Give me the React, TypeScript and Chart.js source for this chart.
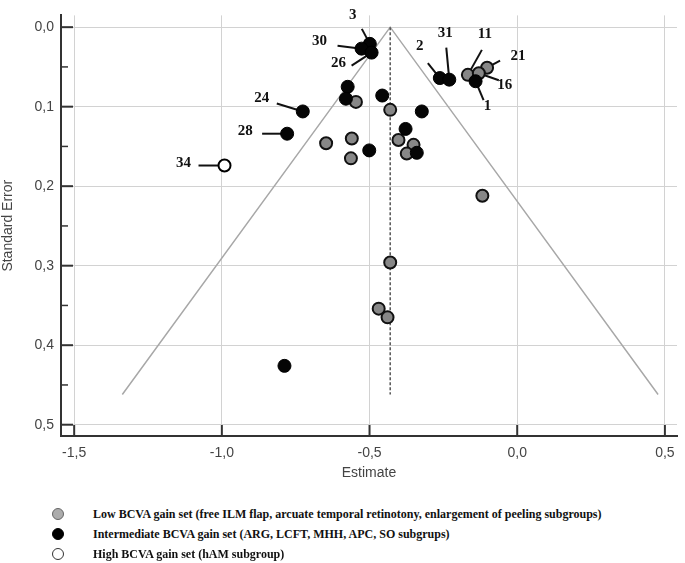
import React, { useEffect, useRef } from 'react';
import { Chart, registerables } from 'chart.js';

Chart.register(...registerables);

// ---- Axis ticks ----
const xTicks = [-1.5, -1.0, -0.5, 0.0, 0.5];
const yTicks = [0.0, 0.1, 0.2, 0.3, 0.4, 0.5];
const yMinorTicks = [0.05, 0.15, 0.25, 0.35, 0.45];

// ---- Low BCVA gain set (grey) ----
const lowEstimate = [-0.167, -0.102, -0.13, -0.546, -0.43, -0.402, -0.351, -0.374, -0.647, -0.56, -0.563, -0.118, -0.43, -0.469, -0.439];
const lowSE = [0.060, 0.051, 0.058, 0.094, 0.104, 0.142, 0.148, 0.159, 0.146, 0.140, 0.165, 0.212, 0.296, 0.354, 0.365];
const lowIds = ['11', '21', '16', '', '', '', '', '', '', '', '', '', '', '', ''];

// ---- Intermediate BCVA gain set (black) ----
const midEstimate = [-0.499, -0.527, -0.493, -0.262, -0.23, -0.141, -0.726, -0.779, -0.574, -0.58, -0.457, -0.323, -0.378, -0.34, -0.501, -0.788];
const midSE = [0.021, 0.027, 0.032, 0.064, 0.066, 0.068, 0.106, 0.134, 0.075, 0.090, 0.086, 0.106, 0.128, 0.158, 0.155, 0.426];
const midIds = ['3', '30', '26', '2', '31', '1', '24', '28', '', '', '', '', '', '', '', ''];

// ---- High BCVA gain set (white) ----
const highEstimate = [-0.991];
const highSE = [0.174];
const highIds = ['34'];

// ---- Funnel (pseudo 95% CI) and summary line ----
const funnelEstimate = [-1.337, -0.43, 0.477];
const funnelSE = [0.462, 0.0, 0.462];
const summaryEstimate = [-0.43, -0.43];
const summarySE = [0.0, 0.462];

const legendLabels = [
  'Low BCVA gain set (free ILM flap, arcuate temporal retinotony, enlargement of peeling subgroups)',
  'Intermediate BCVA gain set (ARG, LCFT, MHH, APC, SO subgrups)',
  'High BCVA gain set (hAM subgroup)',
];

// label placement: [lineEndDx, lineEndDy, textDx, textDy] relative to the point (px)
const labelOffsets: Record<string, [number, number, number, number]> = {
  '3': [-8, -15, -17, -29],
  '30': [-24, -3, -42, -8],
  '26': [-20, 13, -33, 11],
  '2': [-12, -15, -20, -32],
  '31': [-3, -32, -4, -47],
  '11': [14, -25, 17, -41],
  '21': [13, -7, 31, -12],
  '16': [20, 7, 26, 12],
  '1': [8, 19, 12, 25],
  '24': [-26, -8, -41, -13],
  '28': [-25, 0, -42, -3],
  '34': [-26, 0, -41, -2],
};

const fmt = (v: number) => Number(v).toFixed(1).replace('.', ',');
const pts = (xs: number[], ys: number[]) => xs.map((x, i) => ({ x, y: ys[i] }));

const idsByDataset: Record<number, string[]> = { 2: lowIds, 3: midIds, 4: highIds };

const annotatePlugin = {
  id: 'annotate',
  beforeDatasetsDraw(chart: any) {
    const ctx = chart.ctx;
    ctx.save();
    ctx.strokeStyle = '#111';
    ctx.lineWidth = 2;
    Object.keys(idsByDataset).forEach((k) => {
      const di = Number(k);
      const meta = chart.getDatasetMeta(di);
      idsByDataset[di].forEach((id, j) => {
        if (!id || !labelOffsets[id]) return;
        const p = meta.data[j];
        const o = labelOffsets[id];
        ctx.beginPath();
        ctx.moveTo(p.x, p.y);
        ctx.lineTo(p.x + o[0], p.y + o[1]);
        ctx.stroke();
      });
    });
    ctx.restore();
  },
  afterDatasetsDraw(chart: any) {
    const ctx = chart.ctx;
    ctx.save();
    ctx.fillStyle = '#111';
    ctx.font = 'bold 15px "Liberation Serif", "Times New Roman", serif';
    ctx.textAlign = 'center';
    ctx.textBaseline = 'middle';
    Object.keys(idsByDataset).forEach((k) => {
      const di = Number(k);
      const meta = chart.getDatasetMeta(di);
      idsByDataset[di].forEach((id, j) => {
        if (!id || !labelOffsets[id]) return;
        const p = meta.data[j];
        const o = labelOffsets[id];
        ctx.fillText(id, p.x + o[2], p.y + o[3]);
      });
    });
    // inward tick marks
    const xs = chart.scales.x;
    const ys = chart.scales.y;
    const area = chart.chartArea;
    ctx.strokeStyle = '#333';
    ctx.lineWidth = 2;
    xTicks.forEach((v) => {
      const px = xs.getPixelForValue(v);
      ctx.beginPath();
      ctx.moveTo(px, area.bottom);
      ctx.lineTo(px, area.bottom - 11);
      ctx.stroke();
    });
    yTicks.forEach((v) => {
      const py = ys.getPixelForValue(v);
      ctx.beginPath();
      ctx.moveTo(area.left, py);
      ctx.lineTo(area.left + 12, py);
      ctx.stroke();
    });
    ctx.lineWidth = 1.5;
    yMinorTicks.forEach((v) => {
      const py = ys.getPixelForValue(v);
      ctx.beginPath();
      ctx.moveTo(area.left, py);
      ctx.lineTo(area.left + 7, py);
      ctx.stroke();
    });
    ctx.restore();
  },
};

const tickFont = { family: '"Liberation Sans", Arial, sans-serif', size: 14 };

export default function App() {
  const ref = useRef<HTMLCanvasElement>(null);

  useEffect(() => {
    if (!ref.current) return;
    const chart = new Chart(ref.current, {
      type: 'scatter',
      data: {
        datasets: [
          {
            data: pts(funnelEstimate, funnelSE),
            showLine: true,
            borderColor: '#a8a8a8',
            borderWidth: 1.5,
            pointRadius: 0,
            order: 10,
          } as any,
          {
            data: pts(summaryEstimate, summarySE),
            showLine: true,
            borderColor: '#555',
            borderWidth: 1.5,
            borderDash: [3, 2],
            pointRadius: 0,
            order: 9,
          } as any,
          {
            data: pts(lowEstimate, lowSE),
            backgroundColor: '#878787',
            borderColor: '#111',
            borderWidth: 2,
            pointRadius: 6,
            order: 2,
          },
          {
            data: pts(midEstimate, midSE),
            backgroundColor: '#050505',
            borderColor: '#000',
            borderWidth: 1,
            pointRadius: 6.5,
            order: 1,
          },
          {
            data: pts(highEstimate, highSE),
            backgroundColor: '#ffffff',
            borderColor: '#000',
            borderWidth: 2,
            pointRadius: 6,
            order: 0,
          },
        ],
      },
      options: {
        responsive: false,
        animation: false,
        layout: { padding: { top: 8, right: 2, left: 0, bottom: 0 } },
        plugins: { legend: { display: false }, tooltip: { enabled: false } },
        scales: {
          x: {
            type: 'linear',
            min: -1.5446,
            max: 0.541,
            afterBuildTicks: (s: any) => {
              s.ticks = xTicks.map((v) => ({ value: v }));
            },
            afterFit: (s: any) => {
              s.height = 54;
            },
            grid: { color: '#d2d2d2', lineWidth: 1, drawTicks: false },
            border: { color: '#333', width: 2 },
            ticks: {
              padding: 9,
              color: '#444',
              autoSkip: false,
              maxRotation: 0,
              font: tickFont,
              callback: (v: any) => fmt(v),
            },
            title: {
              display: true,
              text: 'Estimate',
              color: '#444',
              font: tickFont,
              padding: { top: 0, bottom: 8 },
            },
          },
          y: {
            type: 'linear',
            reverse: true,
            min: -0.0148,
            max: 0.5142,
            afterBuildTicks: (s: any) => {
              s.ticks = yTicks.map((v) => ({ value: v }));
            },
            afterFit: (s: any) => {
              s.width = 61;
            },
            grid: { color: '#d2d2d2', lineWidth: 1, drawTicks: false },
            border: { color: '#333', width: 2 },
            ticks: {
              padding: 7,
              color: '#444',
              autoSkip: false,
              font: tickFont,
              callback: (v: any) => fmt(v),
            },
            title: {
              display: true,
              text: 'Standard Error',
              color: '#444',
              font: tickFont,
              padding: { top: 0, bottom: 0 },
            },
          },
        },
      },
      plugins: [annotatePlugin],
    });
    return () => chart.destroy();
  }, []);

  const legendDot = (i: number): React.CSSProperties => {
    const base: React.CSSProperties = {
      position: 'absolute',
      left: 52,
      top: 4,
      width: 12,
      height: 12,
      borderRadius: '50%',
      boxSizing: 'border-box',
    };
    if (i === 0) return { ...base, background: '#acacac', border: '1.5px solid #666' };
    if (i === 1) return { ...base, background: '#000', border: '1.5px solid #000' };
    return { ...base, background: '#fff', border: '1.5px solid #333' };
  };

  return (
    <div style={{ position: 'fixed', left: 0, top: 0, width: 685, height: 563, background: '#fff' }}>
      <canvas ref={ref} width={685} height={490} style={{ position: 'absolute', left: 0, top: 0 }} />
      {legendLabels.map((t, i) => (
        <div key={i} style={{ position: 'absolute', left: 0, top: 504 + i * 20, width: 685, height: 20 }}>
          <div style={legendDot(i)} />
          <div
            style={{
              position: 'absolute',
              left: 93,
              top: 0,
              lineHeight: '20px',
              fontFamily: '"Liberation Serif", "Times New Roman", serif',
              fontWeight: 'bold',
              fontSize: 12,
              color: '#111',
              whiteSpace: 'nowrap',
            }}
          >
            {t}
          </div>
        </div>
      ))}
    </div>
  );
}
